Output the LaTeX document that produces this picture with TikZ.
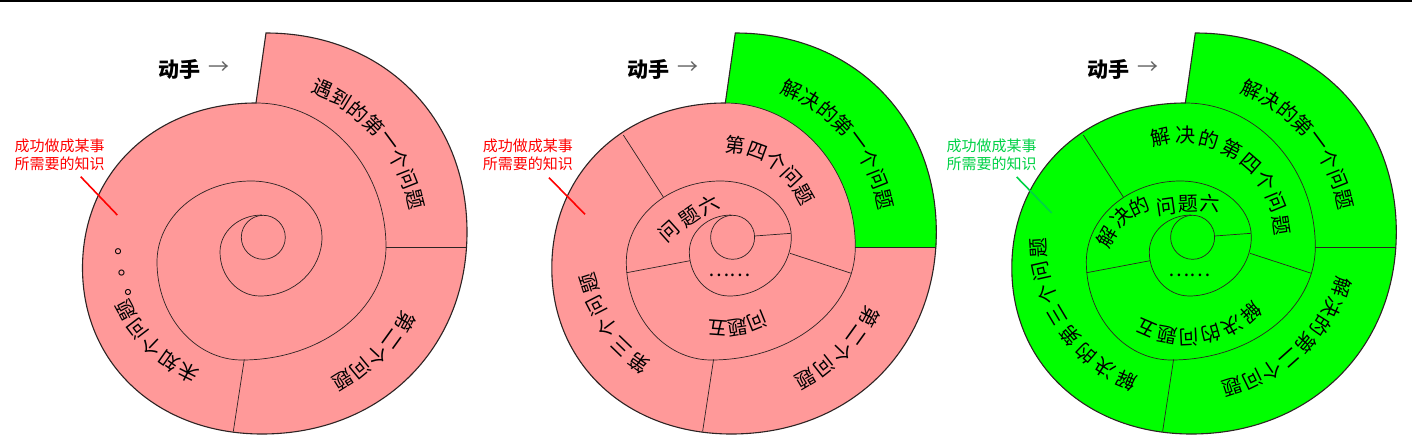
\documentclass[tikz,border=0pt]{standalone}
\usepackage{fontspec}
\newfontfamily\cjk{Noto Sans CJK SC}
\usetikzlibrary{calc}
\definecolor{pinkf}{RGB}{255,153,153}
\definecolor{greenf}{RGB}{0,255,0}
\definecolor{callred}{RGB}{255,0,0}
\definecolor{callgreen}{RGB}{0,210,70}
\definecolor{linec}{RGB}{45,35,35}
\definecolor{arrowgray}{RGB}{100,100,100}
\newcommand\ko{0.58}
\newcommand\ki{0.5523}
\newcommand\hvseg[3]{.. controls ($(#1)!#3!(#1 -| #2)$) and ($(#2)!#3!(#1 -| #2)$) .. (#2)}
\newcommand\vhseg[3]{.. controls ($(#1)!#3!(#1 |- #2)$) and ($(#2)!#3!(#1 |- #2)$) .. (#2)}
\newcommand\defpts{%
 \coordinate (S) at (266,33);
 \coordinate (R1) at (467,232);
 \coordinate (B1) at (262,434);
 \coordinate (L1) at (82.5,268);
 \coordinate (T2) at (256,103);
 \coordinate (R2) at (386,247);
 \coordinate (B2) at (242,360);
 \coordinate (L2) at (157,262);
 \coordinate (T3) at (251,181);
 \coordinate (R3) at (322,237);
 \coordinate (B3) at (260,296);
 \coordinate (L3) at (220,252);
 \coordinate (T4) at (262,215);
 \coordinate (IC) at (263.3,237.3);
 \coordinate (RL) at (467,247);
 \coordinate (BLa) at (244.3,359.3);
 \coordinate (BLb) at (233.3,431.5);
 \coordinate (La1) at (154,135);
 \coordinate (La2) at (194,197);
 \coordinate (Lb1) at (157.4,272.7);
 \coordinate (Lb2) at (220.7,260.7);
 \coordinate (Lc1) at (285.3,236);
 \coordinate (Lc2) at (321.9,233.3);
 \coordinate (Ld1) at (320.7,253.3);
 \coordinate (Ld2) at (382,273.3);
}
\newcommand\shellpath{(S) \hvseg{S}{R1}{\ko} \vhseg{R1}{B1}{\ko} \hvseg{B1}{L1}{\ko} \vhseg{L1}{T2}{\ko} -- cycle}
\newcommand\spiralpath{(T2) \hvseg{T2}{R2}{\ki} \vhseg{R2}{B2}{\ki} \hvseg{B2}{L2}{\ki} \vhseg{L2}{T3}{\ki} \hvseg{T3}{R3}{\ki} \vhseg{R3}{B3}{\ki} \hvseg{B3}{L3}{\ki} \vhseg{L3}{T4}{\ki}}
\tikzset{
 ch/.style={inner sep=0pt, font=\cjk\fontsize{20}{24}\selectfont},
 outerline/.style={draw=linec, line width=1.1pt},
 innerline/.style={draw=linec, line width=0.7pt},
 callout/.style={font=\cjk\fontsize{15}{18}\selectfont, align=center, inner sep=0pt},
 handlbl/.style={font=\cjk\bfseries\fontsize{21}{25}\selectfont, inner sep=0pt},
 arrlbl/.style={font=\cjk\fontsize{21}{25}\selectfont, inner sep=0pt, text=arrowgray},
}
% #1 cx, #2 cy, #3 r0, #4 dr, #5 a0, #6 step, #7 chars
\newcommand\arctext[7]{%
 \foreach \gc [count=\ii] in {#7}{%
  \pgfmathsetmacro\aa{#5-(\ii-1)*(#6)}%
  \pgfmathsetmacro\rr{#3+(\ii-1)*(#4)}%
  \pgfmathsetmacro\rot{\aa-90}%
  \pgfmathsetmacro\px{#1+\rr*cos(\aa)}%
  \pgfmathsetmacro\py{#2-\rr*sin(\aa)}%
  \node[ch, rotate=\rot] at (\px,\py) {\gc};
 }}
\newcommand\topparts{%
 \node[handlbl] (hand) at (179,69) {动手};
 \node[arrlbl] (arr) at (219,68) {→};
}
\begin{document}
\begin{tikzpicture}[x=1pt,y=-1pt]
\useasboundingbox (0,0) rectangle (1412,442);
\fill[white] (0,0) rectangle (1412,442);
\coordinate (tl) at (0,0.8);
\coordinate (tr) at (1412,0.8);
\draw[line width=1.6pt] (tl) -- (tr);

% ---------- diagram 1 ----------
\begin{scope}
\defpts
\fill[pinkf] \shellpath;
\draw[innerline] \spiralpath;
\draw[innerline] (IC) circle[radius=22];
\draw[innerline] (R2) -- (RL);
\draw[innerline] (BLa) -- (BLb);
\draw[outerline] \shellpath;
\topparts
\node[callout, text=callred] (cl1) at (59.5,155) {成功做成某事\\所需要的知识};
\coordinate (c1a) at (80.7,176.7);
\coordinate (c1b) at (117.3,215);
\draw[callred, line width=1.6pt] (c1a) -- (c1b);
\arctext{255}{240}{165}{0}{66}{7.4}{遇,到,的,第,一,个,问,题}
\arctext{255}{240}{171}{-1.5}{-28.6}{7.3}{第,二,个,问,题}
\arctext{255}{240}{149}{-0.5}{243.4}{8.7}{未,知,个,问,题}
\arctext{255}{240}{137}{0}{199.9}{8.7}{。,。,。}
\end{scope}

% ---------- diagram 2 ----------
\begin{scope}[shift={(469.3,0)}]
\defpts
\fill[pinkf] \shellpath;
\fill[greenf] (S) \hvseg{S}{R1}{\ko} -- (RL) -- (R2) \vhseg{R2}{T2}{\ki} -- cycle;
\draw[innerline] \spiralpath;
\draw[innerline] (IC) circle[radius=22];
\draw[innerline] (R2) -- (RL);
\draw[innerline] (BLa) -- (BLb);
\draw[innerline] (La1) -- (La2);
\draw[innerline] (Lb1) -- (Lb2);
\draw[innerline] (Lc1) -- (Lc2);
\draw[innerline] (Ld1) -- (Ld2);
\draw[outerline] \shellpath;
\topparts
\node[callout, text=callred] (cl2) at (58.5,155) {成功做成某事\\所需要的知识};
\coordinate (c2a) at (79.7,177.7);
\coordinate (c2b) at (115.7,214.3);
\draw[callred, line width=1.6pt] (c2a) -- (c2b);
\arctext{255}{240}{165}{0}{66}{7.4}{解,决,的,第,一,个,问,题}
\arctext{255}{240}{164}{-0.75}{-27.9}{7.9}{第,二,个,问,题}
\arctext{255}{240}{150}{-2}{235.4}{9.4}{第,三,个,问,题}
\arctext{255}{240}{96}{-1.25}{83.2}{13.4}{第,四,个,问,题}
\arctext{255}{240}{88}{0}{292}{13}{问,题,五}
\node[ch, rotate=42] (q6a) at (199.7,231.7) {问};
\node[ch, rotate=35] (q6b) at (220.7,216.7) {题};
\node[ch, rotate=28] (q6c) at (239.7,205) {六};
\node[ch] (dots2) at (260.5,275) {……};
\end{scope}

% ---------- diagram 3 ----------
\begin{scope}[shift={(929.3,0)}]
\defpts
\fill[greenf] \shellpath;
\draw[innerline] \spiralpath;
\draw[innerline] (IC) circle[radius=22];
\draw[innerline] (R2) -- (RL);
\draw[innerline] (BLa) -- (BLb);
\draw[innerline] (La1) -- (La2);
\draw[innerline] (Lb1) -- (Lb2);
\draw[innerline] (Lc1) -- (Lc2);
\draw[innerline] (Ld1) -- (Ld2);
\draw[outerline] \shellpath;
\topparts
\node[callout, text=callgreen] (cl3) at (62.2,155) {成功做成某事\\所需要的知识};
\coordinate (c3a) at (87.4,177);
\coordinate (c3b) at (122.4,213);
\draw[callgreen, line width=1.6pt] (c3a) -- (c3b);
\arctext{255}{240}{165}{0}{66}{7.4}{解,决,的,第,一,个,问,题}
\arctext{255}{240}{164}{-1.43}{-16.6}{7.9}{解,决,的,第,二,个,问,题}
\arctext{255}{240}{152}{-0.93}{247.4}{9.16}{解,决,的,第,三,个,问,题}
\arctext{255}{240}{106}{-1.14}{102.7}{13.4}{解,决,的,第,四,个,问,题}
\arctext{255}{240}{99}{-0.6}{312.3}{13.14}{解,决,的,问,题,五}
\node[ch, rotate=60] (s6a) at (177.3,237.3) {解};
\node[ch, rotate=45] (s6b) at (192.3,217.3) {决};
\node[ch, rotate=25] (s6c) at (210,206.7) {的};
\node[ch, rotate=8] (s6d) at (236.7,206.7) {问};
\node[ch, rotate=2] (s6e) at (259,204) {题};
\node[ch, rotate=-3] (s6f) at (280.7,203.3) {六};
\node[ch] (dots3) at (260.5,275) {……};
\end{scope}
\end{tikzpicture}
\end{document}
